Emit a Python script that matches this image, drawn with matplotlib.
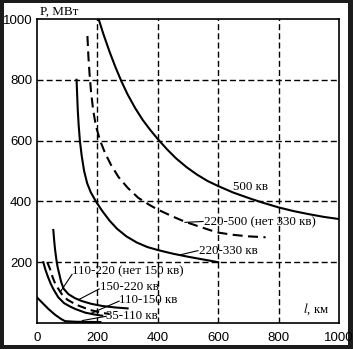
import matplotlib
matplotlib.use('Agg')
import matplotlib.pyplot as plt
from matplotlib.patches import Rectangle

plt.rcParams['mathtext.fontset'] = 'stix'

# Curves: line length l (km) vs transmitted power P (MW)
x_500 = [204, 220, 240, 260, 280, 300, 325, 350, 375, 400, 430, 460, 496, 530, 565, 601, 650, 707, 750, 801, 850, 900, 950, 1000]
y_500 = [1000, 950, 893, 841, 794, 752, 707, 668, 635, 605, 572, 542, 512, 488, 467, 450, 429, 409, 395, 380, 368, 358, 349, 342]

x_220_500 = [167, 170, 174, 179, 186, 195, 209, 225, 245, 270, 300, 335, 373, 400, 450, 490, 550, 596, 650, 700, 757]
y_220_500 = [944, 880, 820, 760, 700, 648, 600, 560, 520, 480, 445, 412, 388, 373, 350, 333, 313, 298, 290, 285, 282]

x_220_330 = [131, 133, 135, 138, 142, 148, 156, 166, 178, 195, 215, 240, 265, 296, 330, 365, 400, 450, 500, 550, 600]
y_220_330 = [800, 750, 700, 650, 600, 550, 500, 460, 430, 400, 370, 337, 310, 285, 265, 250, 240, 228, 218, 209, 200]

x_150_220 = [54, 57, 60, 64, 68, 74, 80, 88, 104, 125, 149, 180, 216, 260, 300]
y_150_220 = [306, 270, 240, 210, 185, 160, 135, 113, 95, 82, 72, 63, 56, 51, 48]

x_110_220 = [34, 43, 52, 62, 71, 82, 100, 130, 175, 216, 240]
y_110_220 = [200, 178, 150, 125, 112, 95, 77, 60, 43, 33, 30]

x_110_150 = [21, 27, 35, 45, 54, 70, 90, 110, 127, 160, 190, 216]
y_110_150 = [200, 178, 155, 130, 112, 85, 65, 54, 46, 34, 28, 24]

x_35_110 = [0, 20, 38, 60, 80, 93, 130, 210]
y_35_110 = [84, 64, 46, 27, 13, 6, 4, 3]

ticks_x = [0, 200, 400, 600, 800, 1000]
ticks_y = [200, 400, 600, 800, 1000]

serif = 'Liberation Serif'
sans = 'Liberation Sans'

fig = plt.figure(figsize=(3.53, 3.49), dpi=100)
fig.patch.set_facecolor('#1c1c1c')
fig.patches.append(Rectangle((4 / 353, 4 / 349), 344 / 353, 342 / 349,
                             transform=fig.transFigure, facecolor='white',
                             edgecolor='none', zorder=-10))

ax = fig.add_axes([37 / 353, 1 - 323 / 349, 302 / 353, 304 / 349])
ax.set_xlim(0, 1000)
ax.set_ylim(0, 1000)

# dashed grid
for v in [200, 400, 600, 800]:
    ax.axvline(v, color='black', lw=1.0, dashes=(4.3, 2.3), zorder=1)
    ax.axhline(v, color='black', lw=1.0, dashes=(4.3, 2.3), zorder=1)

lw = 1.5
ax.plot(x_500, y_500, color='black', lw=lw)
ax.plot(x_220_500, y_220_500, color='black', lw=lw, dashes=(4.8, 2.6))
ax.plot(x_220_330, y_220_330, color='black', lw=lw)
ax.plot(x_150_220, y_150_220, color='black', lw=lw)
ax.plot(x_110_220, y_110_220, color='black', lw=lw, dashes=(4.2, 2.4))
ax.plot(x_110_150, y_110_150, color='black', lw=lw)
ax.plot(x_35_110, y_35_110, color='black', lw=lw)

# labels with leader lines
fs = 9.4
ax.text(650, 447, '500 кв', family=serif, fontsize=fs, va='center', ha='left')

ax.text(552, 332, '220-500 (нет 330 кв)', family=serif, fontsize=fs, va='center', ha='left')
ax.plot([550, 490], [334, 331], color='black', lw=0.8)

ax.text(535, 237, '220-330 кв', family=serif, fontsize=fs, va='center', ha='left')
ax.plot([533, 473], [238, 224], color='black', lw=0.8)

ax.text(117, 171, '110-220 (нет 150 кв)', family=serif, fontsize=fs, va='center', ha='left')
ax.plot([116, 77], [160, 102], color='black', lw=0.8)

ax.text(207, 120, '150-220 кв', family=serif, fontsize=fs, va='center', ha='left')
ax.plot([206, 140], [112, 78], color='black', lw=0.8)

ax.text(273, 76, '110-150 кв', family=serif, fontsize=fs, va='center', ha='left')
ax.plot([272, 180], [72, 32], color='black', lw=0.8)

ax.text(230, 23, '35-110 кв', family=serif, fontsize=fs, va='center', ha='left')
ax.plot([229, 150], [22, 8], color='black', lw=0.8)

ax.text(880, 46, '$\\mathit{l}$, км', family=serif, fontsize=fs, va='center', ha='left')
fig.text(40 / 353, 1 - 12 / 349, 'P, МВт', family=serif, fontsize=fs, va='center', ha='left')

ax.set_xticks(ticks_x)
ax.set_yticks(ticks_y)
ax.set_xticklabels([str(t) for t in ticks_x], family=sans, fontsize=9.5)
ax.set_yticklabels([str(t) for t in ticks_y], family=sans, fontsize=9.5)
ax.tick_params(axis='y', length=0, pad=3.5)
ax.tick_params(axis='x', length=0, pad=6.5)
for s in ax.spines.values():
    s.set_linewidth(1.2)
    s.set_color('black')

plt.savefig('out.png', dpi=100, facecolor=fig.get_facecolor())
